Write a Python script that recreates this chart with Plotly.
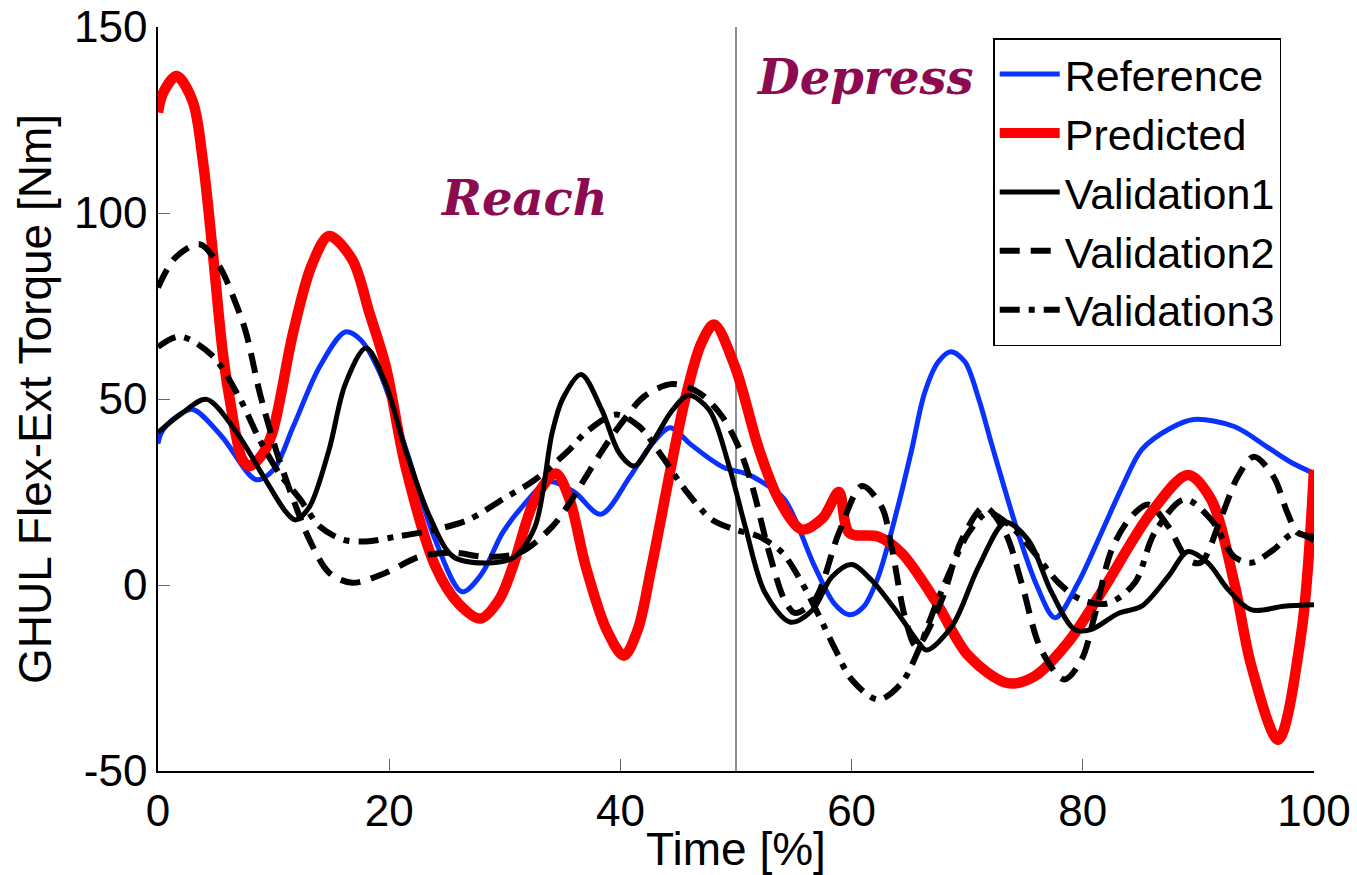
import plotly.graph_objects as go

# Glenohumeral flexion-extension torque over the normalised movement cycle
ref_x = [0, 0.3, 1.5, 3.0, 5.5, 8.5, 10, 11.7, 14, 16.2, 17.5, 19.2, 21.5, 24, 26.3, 28, 29.8,
         31.5, 33.8, 36, 38.3, 40.8, 42.5, 44.3, 46, 47.7, 49, 50.8, 52.2, 54.2, 56.8, 58.5,
         59.8, 61, 62.3, 64, 65.2, 66.3, 67.5, 68.6, 69.8, 71, 72.1, 74.4, 76, 77.6, 79.6,
         81.6, 83.5, 85.1, 87.5, 89.6, 93.1, 96, 98, 100]
ref_y = [38, 41, 45, 47.2, 40, 28.3, 31, 42.6, 58.8, 68, 66, 57, 36, 12, -1.8, 3, 14,
         21, 27.8, 25, 19, 29, 37, 42.3, 38, 34, 31.5, 30, 27.8, 23, 5, -5,
         -8, -6, 2.2, 21, 36.4, 51.5, 60, 62.7, 60, 50, 38, 14, 0, -8.8, 0.6,
         14, 27, 36.4, 42, 44.5, 42.6, 37, 33, 30]

pred_x = [0, 0.4, 1.6, 3.0, 3.9, 4.75, 5.6, 6.2, 7.3, 7.9, 9.0, 9.9, 11.7, 13.3, 14.8, 16.8,
          18.3, 19.7, 21.4, 24, 26, 27.9, 29.5, 30.7, 32.6, 34.4, 35.6, 37, 38.8, 40.3, 41.5,
          42.7, 45.6, 47, 48.1, 49.9, 52, 53.7, 55.7, 57.5, 58.9, 59.8, 62.3, 64.3, 67.2,
          70.1, 73.5, 75.8, 78.7, 81.6, 85.9, 89.1, 91.1, 93.1, 94.6, 96.9, 98.9, 100]
pred_y = [127, 132, 136.8, 130, 113.6, 89, 62.5, 50, 33.7, 32, 35, 41, 68, 86, 93.8, 87.5,
          73, 58.8, 32, 5, -5, -9, -4, 5, 23, 30, 23, 5, -12, -19, -12,
          5, 50, 65, 70, 58.8, 36.4, 23, 14.9, 18, 25, 14, 13, 8.7, -4,
          -19, -26.4, -24.6, -15.5, -2, 19.4, 29.6, 23, 0.6, -22, -41.6, -13, 31]

val1_x = [0, 2, 4.2, 6.8, 9.1, 11.1, 11.9, 13.1, 14.8, 16.2, 18, 19.7, 21.4, 23.5, 25.5, 28.3,
          30.7, 32.6, 34.1, 35.0, 36.6, 38.4, 39.9, 41.2, 42.7, 44.5, 45.9, 47.7, 49.4, 50.8,
          52.5, 54.7, 56.6, 58.3, 60, 61.7, 64, 65.8, 66.5, 68.7, 71, 73.3, 75.3, 77.3, 79.3,
          80.7, 83.1, 85.1, 87.4, 89.1, 90.8, 92.6, 94.6, 97.4, 100]
val1_y = [41, 46, 49.9, 41, 29.3, 19.5, 17.5, 21, 36.4, 54, 63.7, 54, 36.4, 18.4, 7.7, 5.9,
          7.3, 15.6, 41, 50, 56.6, 47, 35.5, 32, 38, 47, 51, 47, 32, 15.7,
          -2, -10, -6.8, 2.2, 5.5, 1.4, -7.6, -15.5, -17.5, -11, 5, 16.8, 12, -2, -12,
          -12, -7.6, -5.7, 2.3, 9, 6, -1.3, -6.7, -5.7, -5.3]

val2_x = [0, 1.5, 3.6, 5.3, 6.7, 7.6, 8.8, 10.2, 11.7, 13.1, 14.8, 16.8, 19.7, 22.6, 25.5,
          28.3, 31.3, 34.1, 35.6, 37, 38.4, 39.9, 42.1, 44.5, 46.8, 48.8, 50.2, 51.4, 52.8,
          54.2, 55.1, 56.8, 58.9, 60.9, 62.6, 63.5, 64.6, 65.6, 67.8, 69.5, 71.5, 73.3, 74.7,
          76.4, 78.4, 79.9, 81, 82.5, 84.2, 85.7, 87.4, 89.1, 90.2, 92, 93.4, 94.8, 96.5,
          97.7, 98.6, 100]
val2_y = [80, 88, 91.6, 85.7, 75.9, 68, 51.7, 36.4, 23, 12.2, 3.3, 0.6, 3.3, 7.6, 8.7,
          7.6, 8.7, 15.7, 22, 29, 36, 42.7, 50.8, 54, 51.7, 45.3, 37.3, 26.6, 9.5,
          -4, -7.5, -4, 14, 26.6, 21, 9.6, -8.4, -16.5, -4, 12, 21, 14, 0.6,
          -17.4, -25.4, -20, -8.5, 9.5, 18.4, 21.6, 15.7, 6.8, 6, 18.4, 29.1, 34.5, 29.1,
          19.4, 14, 13]

val3_x = [0, 1.9, 4.75, 7.1, 8.8, 10.5, 12.3, 14, 16, 18, 20.6, 24, 26.9, 29.8, 32.6, 35.6,
          37, 39.6, 41.6, 43.6, 45.6, 47.9, 49.9, 52, 54, 55.7, 57.2, 58.6, 60, 62.3, 64.3,
          65.8, 67.2, 68.7, 70.1, 71.8, 73.8, 75.8, 77.9, 79.9, 82.2, 84.5, 86.2, 88.8, 91.1,
          93.1, 94.6, 96.5, 98.3, 100]
val3_y = [64, 66.8, 61.5, 50, 39, 30, 23, 15.7, 12.2, 11.7, 13, 14.9, 17.6, 23, 28.3, 36.4,
          41, 45.8, 42.7, 34.6, 25.6, 17.6, 14.9, 13, 8.7, 0.6, -8.4, -17.4, -25.4, -30.8, -26.4,
          -17.4, -6, 5, 14, 19.4, 15.7, 8.7, 0.6, -4, -4.9, 0.6, 14, 23, 17.6,
          7.6, 6, 9.5, 14, 12]

y_ticks = [-50, 0, 50, 100, 150]
y_tick_text = ["-50", "0", "50", "100", "150"]
x_ticks = [0, 20, 40, 60, 80, 100]
PHASE_SPLIT = 50  # boundary between the reach and depress phases [%]

series = [
    ("Reference", ref_x, ref_y, "#0a32ff", 5, "solid"),
    ("Predicted", pred_x, pred_y, "#ff0000", 10.5, "solid"),
    ("Validation1", val1_x, val1_y, "#000000", 5, "solid"),
    ("Validation2", val2_x, val2_y, "#000000", 6, "20px,11px"),
    ("Validation3", val3_x, val3_y, "#000000", 6, "20px,9px,6px,9px"),
]

fig = go.Figure()
for name, xs, ys, color, width, dash in series:
    fig.add_trace(go.Scatter(
        x=xs, y=ys, name=name, mode="lines",
        line=dict(color=color, width=width, dash=dash, shape="spline", smoothing=0.9),
    ))

fig.add_shape(type="line", x0=PHASE_SPLIT, x1=PHASE_SPLIT, xref="x", y0=0, y1=1, yref="paper",
              line=dict(color="#444444", width=1.2), layer="below")

label_font = dict(family="DejaVu Serif", size=48, color="#8c0a4f", weight="bold", style="italic")
fig.add_annotation(x=31.7, y=104, xref="x", yref="y", text="Reach", showarrow=False, font=label_font)
fig.add_annotation(x=61.2, y=136.5, xref="x", yref="y", text="Depress", showarrow=False, font=label_font)

sans = "Liberation Sans, Arial, sans-serif"
tick_font = dict(family=sans, size=44, color="#000000")
title_font = dict(family=sans, size=46, color="#000000")

fig.update_layout(
    width=1357, height=875,
    margin=dict(l=158, r=43, t=27, b=104, autoexpand=False),
    paper_bgcolor="white", plot_bgcolor="white",
    font=tick_font,
    showlegend=True,
    legend=dict(
        x=0.7225, y=0.985, xanchor="left", yanchor="top",
        bgcolor="white", bordercolor="#000000", borderwidth=1.5,
        font=dict(family=sans, size=43, color="#000000"),
        tracegroupgap=0, itemwidth=60,
    ),
    xaxis=dict(
        range=[0, 100], tickvals=x_ticks, ticks="inside", ticklen=12, tickcolor="#666666",
        showline=True, linecolor="#000000", linewidth=1.5, showgrid=False, zeroline=False,
        automargin=False,
        title=dict(text="Time [%]", standoff=0, font=title_font), tickfont=tick_font,
    ),
    yaxis=dict(
        range=[-50, 150], tickvals=y_ticks, ticktext=y_tick_text, ticks="inside", ticklen=12,
        tickcolor="#666666", showline=True, linecolor="#000000", linewidth=1.5,
        showgrid=False, zeroline=False, automargin=False,
        title=dict(text="GHUL Flex-Ext Torque [Nm]", standoff=8, font=title_font), tickfont=tick_font,
    ),
)

fig.write_html("out.html")
